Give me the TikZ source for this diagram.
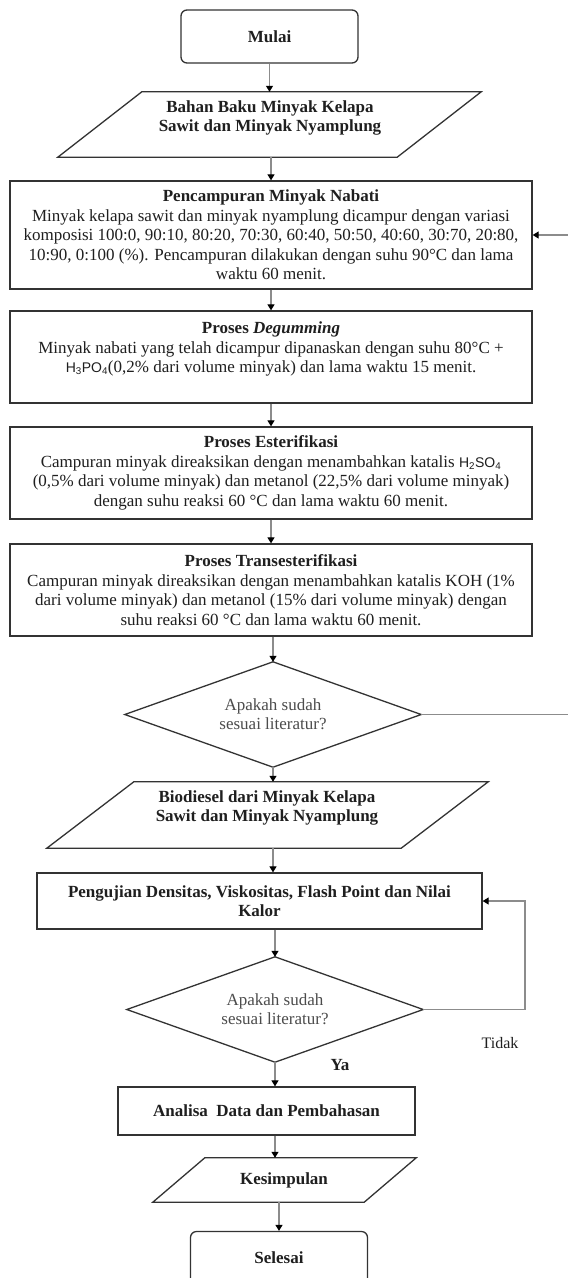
\documentclass[tikz,border=0pt]{standalone}
\usepackage{fontspec}
\setmainfont{Liberation Serif}
\newfontfamily\arialf{Liberation Sans}
\usetikzlibrary{arrows.meta,calc}
\newcommand\drawpara[2]{\draw[shapeline] ($(#1.north west)+(#2,0)$) -- (#1.north east) -- ($(#1.south east)-(#2,0)$) -- (#1.south west) -- cycle;}
\newcommand\drawdiam[1]{\draw[shapeline] (#1.north) -- (#1.east) -- (#1.south) -- (#1.west) -- cycle;}
\begin{document}
\begin{tikzpicture}[x=1pt,y=-1pt,
  txt/.style={font=\fontsize{17}{19.5}\selectfont, text=black!88, align=center, inner sep=0pt},
  shapeline/.style={draw=black!80, line width=1.3pt},
  proc/.style={shapeline, rectangle, txt},
  term/.style={shapeline, rectangle, rounded corners=6pt, minimum width=177pt, minimum height=53pt, txt, font=\fontsize{17}{19.5}\selectfont\bfseries},
  holder/.style={rectangle, inner sep=0pt, draw=none},
  arr/.style={draw=black!45, line width=1.2pt, -{Triangle[length=6pt,width=7pt,color=black]}},
  diatext/.style={txt, text=black!70}
]
\useasboundingbox (0,0) rectangle (568,1278);
\fill[white] (0,0) rectangle (568,1278);

% Start
\node[term] (start) at (269.5,36.5) {Mulai};

% Parallelogram 1
\node[holder, minimum width=423pt, minimum height=65pt] (p1) at (269.5,124.5) {};
\drawpara{p1}{84}
\node[txt, font=\fontsize{17}{19.5}\selectfont\bfseries] (p1t) at (270,118) {Bahan Baku Minyak Kelapa\\ Sawit dan Minyak Nyamplung};

% Process boxes
\node[proc, minimum width=522pt, minimum height=108pt] (b1) at (271,235) {\textbf{Pencampuran Minyak Nabati}\\ Minyak kelapa sawit dan minyak nyamplung dicampur dengan variasi\\ komposisi 100:0, 90:10, 80:20, 70:30, 60:40, 50:50, 40:60, 30:70, 20:80,\\ 10:90, 0:100 (\%). Pencampuran dilakukan dengan suhu 90°C dan lama\\ waktu 60 menit.};

\node[proc, minimum width=522pt, minimum height=92pt] (b2) at (271,357) {\textbf{Proses \textit{Degumming}}\\ Minyak nabati yang telah dicampur dipanaskan dengan suhu 80°C +\\ {\arialf\fontsize{14}{19.5}\selectfont H\textsubscript{3}PO\textsubscript{4}}(0,2\% dari volume minyak) dan lama waktu 15 menit.\\ \mbox{}};

\node[proc, minimum width=522pt, minimum height=92pt] (b3) at (271,473) {\textbf{Proses Esterifikasi}\\ Campuran minyak direaksikan dengan menambahkan katalis {\arialf\fontsize{14}{19.5}\selectfont H\textsubscript{2}SO\textsubscript{4}}\\ (0,5\% dari volume minyak) dan metanol (22,5\% dari volume minyak)\\ dengan suhu reaksi 60 °C dan lama waktu 60 menit.};

\node[proc, minimum width=522pt, minimum height=92pt] (b4) at (271,590) {\textbf{Proses Transesterifikasi}\\ Campuran minyak direaksikan dengan menambahkan katalis KOH (1\%\\ dari volume minyak) dan metanol (15\% dari volume minyak) dengan\\ suhu reaksi 60 °C dan lama waktu 60 menit.};

% Decision 1
\node[holder, minimum width=296pt, minimum height=105pt] (d1) at (273,714.5) {};
\drawdiam{d1}
\node[diatext] (d1t) at (273,714) {Apakah sudah\\ sesuai literatur?};

% Parallelogram 2
\node[holder, minimum width=441pt, minimum height=66pt] (p2) at (267.5,815) {};
\drawpara{p2}{87}
\node[txt, font=\fontsize{17}{19.5}\selectfont\bfseries] (p2t) at (267,808) {Biodiesel dari Minyak Kelapa\\ Sawit dan Minyak Nyamplung};

% Testing
\node[proc, minimum width=445pt, minimum height=56pt, font=\fontsize{17}{19.5}\selectfont\bfseries] (b5) at (259.5,901) {Pengujian Densitas, Viskositas, Flash Point dan Nilai\\ Kalor};

% Decision 2
\node[holder, minimum width=296pt, minimum height=105pt] (d2) at (275,1009.5) {};
\drawdiam{d2}
\node[diatext] (d2t) at (275,1009) {Apakah sudah\\ sesuai literatur?};

% Analysis
\node[proc, minimum width=297pt, minimum height=48pt, font=\fontsize{17}{19.5}\selectfont\bfseries] (b6) at (266.5,1111) {Analisa\ \ Data dan Pembahasan};

% Parallelogram 3
\node[holder, minimum width=263pt, minimum height=44pt] (p3) at (284.5,1180) {};
\drawpara{p3}{52}
\node[txt, font=\fontsize{17}{19.5}\selectfont\bfseries] (p3t) at (284,1180) {Kesimpulan};

% End
\node[term] (end) at (279,1258) {Selesai};

% Labels
\node[txt, font=\fontsize{16}{19}\selectfont] (tidak) at (500,1043) {Tidak};
\node[txt, font=\fontsize{17}{19.5}\selectfont\bfseries] (ya) at (340,1065) {Ya};

% Connectors
\draw[arr] (start.south) -- (p1.north -| start.south);
\draw[arr] (p1.south -| b1.north) -- (b1.north);
\draw[arr] (b1.south) -- (b2.north);
\draw[arr] (b2.south) -- (b3.north);
\draw[arr] (b3.south) -- (b4.north);
\draw[arr] (b4.south -| d1.north) -- (d1.north);
\draw[arr] (d1.south) -- (p2.north -| d1.south);
\draw[arr] (p2.south -| d1.south) -- (b5.north -| d1.south);
\draw[arr] (b5.south -| d2.north) -- (d2.north);
\draw[arr] (d2.south) -- (b6.north -| d2.south);
\draw[arr] (b6.south -| d2.south) -- (p3.north -| d2.south);
\draw[arr] (p3.south -| end.north) -- (end.north);

% Feedback loops
\coordinate (r1) at (574,0);
\draw[arr] (d1.east) -- (d1.east -| r1) -- (b1.east -| r1) -- (b1.east);
\coordinate (r2) at (525,0);
\draw[arr] (d2.east) -- (d2.east -| r2) -- (b5.east -| r2) -- (b5.east);
\end{tikzpicture}
\end{document}
